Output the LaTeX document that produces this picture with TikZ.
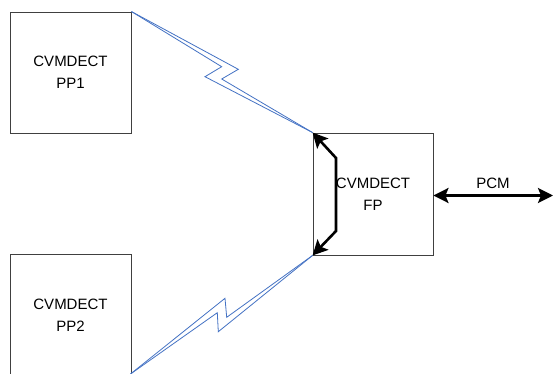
\documentclass[tikz,border=0pt]{standalone}
\usepackage{fontspec}
\setmainfont{Liberation Sans}
\usetikzlibrary{arrows.meta}
\definecolor{boltblue}{RGB}{68,114,196}
\definecolor{boxline}{RGB}{64,64,64}
\tikzset{
  unitbox/.style={draw=boxline, line width=0.9pt, minimum width=121pt, minimum height=121pt,
    inner sep=0pt, align=center, font=\fontsize{15}{22}\selectfont},
  bolt/.style={draw=boltblue, line width=0.8pt, line join=miter},
  bigarrow/.style={line width=2.6pt, {Stealth[length=15pt,width=15pt,inset=3pt]}-{Stealth[length=15pt,width=15pt,inset=3pt]}},
  lbl/.style={font=\fontsize{15}{22}\selectfont, inner sep=0pt}
}
\begin{document}
\begin{tikzpicture}[x=1pt,y=-1pt]
\useasboundingbox (0,0) rectangle (553,374);
\clip (0,0) rectangle (553,374);
\fill[white] (0,0) rectangle (553,374);
\node[unitbox] (pp1) at (70.5,72.5) {CVMDECT\\PP1};
\node[unitbox] (pp2) at (70.5,315) {CVMDECT\\PP2};
\node[unitbox, minimum width=120pt, minimum height=122pt] (fp) at (373,194) {CVMDECT\\FP};
% upper lightning
\coordinate (ua1) at (238.3,69.3);
\coordinate (ua2) at (221.7,79);
\coordinate (ub1) at (221.7,66.7);
\coordinate (ub2) at (205,76.7);
\draw[bolt] (pp1.north east) -- (ua1) -- (ua2) -- (fp.north west);
\draw[bolt] (pp1.north east) -- (ub1) -- (ub2) -- (fp.north west);
% lower lightning
\coordinate (ls) at (130.5,374);
\coordinate (la1) at (225,298.3);
\coordinate (la2) at (226.7,317.3);
\coordinate (lb1) at (217.3,312.7);
\coordinate (lb2) at (218.3,331.7);
\draw[bolt] (ls) -- (la1) -- (la2) -- (fp.south west);
\draw[bolt] (ls) -- (lb1) -- (lb2) -- (fp.south west);
% inner arrow
\coordinate (ib1) at (336,158);
\coordinate (ib2) at (336,231);
\draw[bigarrow, line join=miter] (fp.north west) -- (ib1) -- (ib2) -- (fp.south west);
% PCM
\coordinate (pcmstart) at ([yshift=-1.5pt]fp.east);
\coordinate (pcmend) at (553,195.5);
\draw[bigarrow] (pcmstart) -- (pcmend);
\node[lbl] (pcm) at (493,183) {PCM};
\end{tikzpicture}
\end{document}
